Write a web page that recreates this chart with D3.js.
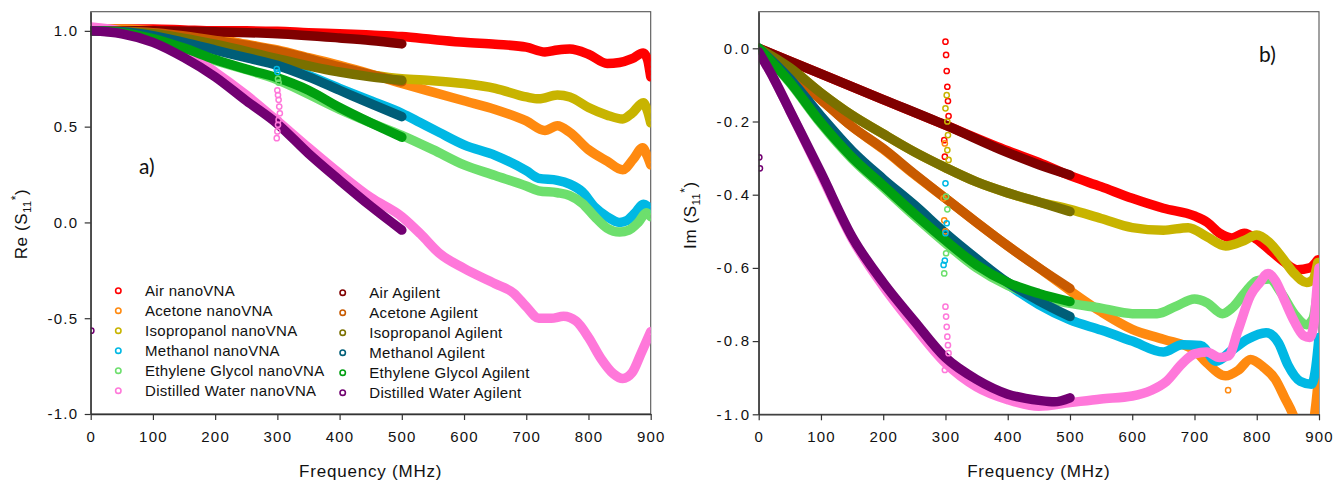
<!DOCTYPE html>
<html>
<head>
<meta charset="utf-8">
<script src="https://cdn.jsdelivr.net/npm/d3@7"></script>
<style>
  body { margin: 0; background: #fff; }
  svg { display: block; font-family: "Liberation Sans", Arial, sans-serif; }
</style>
</head>
<body>
<svg id="chart" width="1344" height="481"></svg>
<script>
// ---------------------------------------------------------------
// Reflection coefficient S11* of six samples, measured with a
// nanoVNA (0–900 MHz) and an Agilent analyser (0–500 MHz).
// Each series is a list of [frequency MHz, value] pairs.
// ---------------------------------------------------------------

const xTicks  = [0, 100, 200, 300, 400, 500, 600, 700, 800, 900];
const reTicks = [-1.0, -0.5, 0.0, 0.5, 1.0];
const imTicks = [-1.0, -0.8, -0.6, -0.4, -0.2, 0.0];

const nanoNames    = ["Air nanoVNA", "Acetone nanoVNA", "Isopropanol nanoVNA", "Methanol nanoVNA", "Ethylene Glycol nanoVNA", "Distilled Water nanoVNA"];
const agilentNames = ["Air Agilent", "Acetone Agilent", "Isopropanol Agilent", "Methanol Agilent", "Ethylene Glycol Agilent", "Distilled Water Agilent"];
const nanoColors    = ["#ff0000", "#ff8a10", "#c8b400", "#00b8e4", "#6ddf6d", "#ff78da"];
const agilentColors = ["#800000", "#c85a00", "#7a7000", "#005e78", "#00a010", "#720072"];

// ---- Real part, nanoVNA ----
const reAirNano = [[0,1.01],[50,1.01],[100,1.01],[150,1.005],[200,1.0],[250,1.0],[300,0.998],[350,0.99],[400,0.985],[450,0.978],[500,0.97],[550,0.955],[600,0.94],[650,0.93],[700,0.915],[730,0.89],[750,0.9],[770,0.905],[800,0.878],[830,0.83],[850,0.835],[870,0.855],[888,0.885],[895,0.85],[898,0.8],[900,0.76]];
const reAcetoneNano = [[0,1.01],[50,1.01],[100,1.0],[150,0.985],[200,0.96],[250,0.93],[300,0.9],[350,0.86],[400,0.82],[450,0.775],[500,0.726],[550,0.68],[600,0.635],[650,0.59],[700,0.53],[730,0.48],[750,0.505],[770,0.47],[800,0.38],[830,0.32],[855,0.275],[872,0.33],[887,0.39],[894,0.35],[900,0.3]];
const reIsopropanolNano = [[0,1.01],[100,0.99],[200,0.94],[300,0.865],[400,0.795],[450,0.77],[500,0.75],[550,0.74],[600,0.725],[650,0.7],[700,0.655],[720,0.645],[750,0.665],[770,0.655],[800,0.6],[830,0.56],[855,0.54],[870,0.57],[888,0.625],[895,0.58],[900,0.52]];
const reMethanolNano = [[0,1.01],[100,0.98],[200,0.91],[300,0.83],[400,0.7],[450,0.635],[500,0.57],[530,0.52],[560,0.47],[600,0.405],[650,0.35],[700,0.27],[720,0.23],[750,0.22],[770,0.2],[790,0.16],[810,0.08],[830,0.03],[850,0.0],[862,0.01],[875,0.05],[888,0.095],[900,0.07]];
const reGlycolNano = [[0,1.01],[100,0.96],[200,0.845],[300,0.745],[400,0.59],[450,0.52],[500,0.455],[550,0.38],[600,0.3],[650,0.245],[700,0.19],[720,0.165],[750,0.155],[770,0.14],[790,0.1],[810,0.03],[830,-0.03],[850,-0.05],[865,-0.04],[880,0.0],[893,0.05],[900,0.03]];
const reWaterNano = [[0,1.02],[50,1.0],[100,0.96],[150,0.89],[200,0.785],[250,0.665],[300,0.53],[350,0.39],[400,0.255],[450,0.13],[500,0.03],[530,-0.06],[560,-0.16],[600,-0.24],[650,-0.32],[680,-0.37],[700,-0.44],[720,-0.5],[740,-0.5],[760,-0.49],[780,-0.515],[800,-0.6],[820,-0.71],[840,-0.79],[855,-0.815],[870,-0.785],[885,-0.68],[900,-0.57]];

// ---- Real part, Agilent ----
const reAirAgilent = [[0,1.0],[100,1.0],[200,0.995],[300,0.985],[400,0.963],[450,0.95],[500,0.932]];
const reAcetoneAgilent = [[0,1.0],[100,0.99],[200,0.95],[300,0.895],[400,0.812],[450,0.772],[500,0.734]];
const reIsopropanolAgilent = [[0,1.0],[100,0.985],[200,0.93],[300,0.855],[400,0.785],[450,0.76],[500,0.742]];
const reMethanolAgilent = [[0,1.0],[50,0.995],[100,0.975],[150,0.94],[200,0.9],[250,0.86],[300,0.82],[350,0.76],[400,0.69],[450,0.62],[500,0.552]];
const reGlycolAgilent = [[0,1.0],[50,0.99],[100,0.96],[150,0.91],[200,0.85],[250,0.8],[300,0.755],[350,0.69],[400,0.6],[450,0.52],[500,0.445]];
const reWaterAgilent = [[0,1.0],[50,0.985],[100,0.94],[150,0.86],[200,0.76],[250,0.635],[300,0.515],[350,0.36],[400,0.22],[450,0.085],[500,-0.04]];

// ---- Real part, isolated readings ----
const reWaterNanoSpikes = [[300,0.69],[301,0.665],[302,0.64],[303,0.605],[304,0.57],[302,0.535],[301,0.51],[300,0.475],[299,0.44]];
const reMethanolNanoSpikes = [[299,0.8],[300,0.785]];
const reGlycolNanoSpikes = [[301,0.75],[302,0.73]];
const reWaterAgilentSpikes = [[1,-0.565]];

// ---- Imaginary part, nanoVNA ----
const imAirNano = [[0,0],[100,-0.07],[200,-0.14],[300,-0.21],[400,-0.28],[450,-0.312],[500,-0.348],[550,-0.378],[600,-0.41],[650,-0.437],[700,-0.458],[720,-0.475],[740,-0.505],[760,-0.518],[780,-0.505],[800,-0.522],[820,-0.55],[845,-0.585],[865,-0.605],[885,-0.6],[898,-0.578]];
const imAcetoneNano = [[0,0],[50,-0.068],[100,-0.14],[150,-0.214],[200,-0.276],[250,-0.345],[300,-0.41],[350,-0.476],[400,-0.54],[450,-0.6],[500,-0.662],[550,-0.72],[600,-0.768],[650,-0.795],[700,-0.825],[720,-0.86],[750,-0.895],[770,-0.88],[790,-0.85],[810,-0.87],[830,-0.905],[845,-0.955],[858,-1.0],[870,-1.06],[885,-1.06],[893,-1.0],[897,-0.94],[900,-0.88]];
const imIsopropanolNano = [[0,0],[50,-0.053],[100,-0.122],[150,-0.183],[200,-0.234],[250,-0.283],[300,-0.326],[350,-0.365],[400,-0.395],[450,-0.42],[500,-0.44],[550,-0.465],[600,-0.49],[650,-0.497],[690,-0.49],[720,-0.515],[750,-0.54],[780,-0.525],[800,-0.51],[820,-0.53],[840,-0.57],[860,-0.615],[880,-0.64],[890,-0.632],[898,-0.585]];
const imMethanolNano = [[0,0],[50,-0.085],[100,-0.188],[150,-0.283],[200,-0.362],[250,-0.433],[300,-0.51],[350,-0.58],[400,-0.645],[450,-0.7],[500,-0.742],[550,-0.77],[600,-0.8],[650,-0.83],[680,-0.81],[710,-0.812],[735,-0.855],[760,-0.825],[785,-0.795],[815,-0.777],[835,-0.805],[850,-0.865],[870,-0.91],[888,-0.918],[895,-0.87],[900,-0.79]];
const imGlycolNano = [[0,0],[50,-0.094],[100,-0.206],[150,-0.302],[200,-0.38],[250,-0.458],[300,-0.532],[350,-0.6],[400,-0.648],[450,-0.678],[500,-0.697],[550,-0.71],[600,-0.725],[640,-0.725],[670,-0.705],[700,-0.685],[720,-0.695],[745,-0.725],[760,-0.71],[780,-0.67],[800,-0.635],[820,-0.63],[840,-0.67],[860,-0.725],[880,-0.755],[890,-0.74],[898,-0.66]];
const imWaterNano = [[0,-0.01],[25,-0.085],[50,-0.17],[100,-0.345],[150,-0.52],[200,-0.65],[250,-0.76],[300,-0.86],[350,-0.925],[400,-0.96],[450,-0.978],[500,-0.968],[550,-0.958],[600,-0.95],[630,-0.935],[655,-0.91],[680,-0.862],[700,-0.835],[720,-0.83],[740,-0.845],[755,-0.84],[770,-0.77],[790,-0.675],[805,-0.64],[818,-0.615],[830,-0.635],[845,-0.69],[860,-0.745],[875,-0.785],[885,-0.79],[892,-0.75],[897,-0.65],[900,-0.6]];

// ---- Imaginary part, Agilent ----
const imAirAgilent = [[0,0],[100,-0.07],[200,-0.14],[300,-0.21],[400,-0.285],[450,-0.318],[500,-0.346]];
const imAcetoneAgilent = [[0,0],[50,-0.068],[100,-0.14],[150,-0.214],[200,-0.274],[250,-0.343],[300,-0.41],[350,-0.476],[400,-0.54],[450,-0.6],[500,-0.656]];
const imIsopropanolAgilent = [[0,0],[50,-0.053],[100,-0.122],[150,-0.183],[200,-0.234],[250,-0.283],[300,-0.326],[350,-0.365],[400,-0.395],[450,-0.42],[500,-0.446]];
const imMethanolAgilent = [[0,0],[50,-0.083],[100,-0.185],[150,-0.28],[200,-0.357],[250,-0.428],[300,-0.505],[350,-0.575],[400,-0.64],[450,-0.69],[500,-0.733]];
const imGlycolAgilent = [[0,0],[50,-0.092],[100,-0.203],[150,-0.298],[200,-0.375],[250,-0.452],[300,-0.525],[350,-0.592],[400,-0.64],[450,-0.67],[500,-0.692]];
const imWaterAgilent = [[0,-0.01],[25,-0.085],[50,-0.17],[100,-0.34],[150,-0.515],[200,-0.64],[250,-0.745],[300,-0.845],[350,-0.905],[400,-0.945],[450,-0.962],[475,-0.966],[500,-0.955]];

// ---- Imaginary part, isolated readings ----
const imAirNanoSpikes = [[300,0.018],[301,-0.018],[302,-0.062],[303,-0.105],[304,-0.144],[305,-0.185],[298,-0.251],[299,-0.296]];
const imIsopropanolNanoSpikes = [[302,-0.128],[300,-0.164],[303,-0.2],[304,-0.237],[303,-0.278],[305,-0.305]];
const imAcetoneNanoSpikes = [[299,-0.26],[297,-0.41],[298,-0.47],[300,-0.5],[754,-0.934]];
const imMethanolNanoSpikes = [[300,-0.369],[302,-0.478],[300,-0.505],[299,-0.58],[297,-0.592]];
const imGlycolNanoSpikes = [[301,-0.405],[303,-0.44],[301,-0.56],[298,-0.615]];
const imWaterNanoSpikes = [[300,-0.706],[301,-0.733],[302,-0.761],[303,-0.788],[304,-0.811],[305,-0.833],[299,-0.879]];
const imWaterAgilentSpikes = [[1,-0.298],[2,-0.328]];

// ---------------------------------------------------------------
const svg = d3.select("#chart");
const TEXT = "#111";

function drawPanel(cfg) {
  const x = d3.scaleLinear().domain([0, 900]).range([cfg.left, cfg.right]);
  const y = d3.scaleLinear().domain(cfg.yDomain).range([cfg.bottom, cfg.top]);
  const g = svg.append("g");

  const clipId = "clip-" + cfg.id;
  svg.append("defs").append("clipPath").attr("id", clipId)
    .append("rect")
    .attr("x", cfg.left).attr("y", cfg.top)
    .attr("width", cfg.right - cfg.left).attr("height", cfg.bottom - cfg.top);

  // frame
  g.append("rect")
    .attr("x", cfg.left).attr("y", cfg.top)
    .attr("width", cfg.right - cfg.left).attr("height", cfg.bottom - cfg.top)
    .attr("fill", "none").attr("stroke", "#555").attr("stroke-width", 1.1);

  const plot = g.append("g").attr("clip-path", `url(#${clipId})`);
  const line = d3.line().x(d => x(d[0])).y(d => y(d[1])).curve(d3.curveMonotoneX);

  // dense sweep drawn as a solid band of markers
  function band(data, color) {
    plot.append("path").datum(data)
      .attr("d", line)
      .attr("fill", "none").attr("stroke", color)
      .attr("stroke-width", 9.5)
      .attr("stroke-linejoin", "round").attr("stroke-linecap", "round");
    plot.append("g").selectAll("circle").data(data).join("circle")
      .attr("cx", d => x(d[0])).attr("cy", d => y(d[1])).attr("r", 2.6)
      .attr("fill", "none").attr("stroke", color).attr("stroke-width", 1.5);
  }
  function spikes(data, color) {
    plot.append("g").selectAll("circle").data(data).join("circle")
      .attr("cx", d => x(d[0])).attr("cy", d => y(d[1])).attr("r", 2.6)
      .attr("fill", "none").attr("stroke", color).attr("stroke-width", 1.5);
  }

  cfg.nano.forEach((s, i) => band(s, nanoColors[i]));
  cfg.agilent.forEach((s, i) => band(s, agilentColors[i]));
  cfg.spikes.forEach(s => spikes(s.data, s.color));

  // axes
  const ax = g.append("g").attr("transform", `translate(0,${cfg.bottom})`)
    .call(d3.axisBottom(x).tickValues(xTicks).tickSize(6).tickPadding(11).tickSizeOuter(0).tickFormat(d => String(d)));
  const ay = g.append("g").attr("transform", `translate(${cfg.left},0)`)
    .call(d3.axisLeft(y).tickValues(cfg.yTicks).tickSize(6).tickPadding(cfg.yPad).tickSizeOuter(0).tickFormat(d => d.toFixed(1)));
  [ax, ay].forEach(a => {
    a.select(".domain").attr("stroke", "#333").attr("stroke-width", 1.3);
    a.selectAll(".tick line").attr("stroke", "#333").attr("stroke-width", 1.2);
    a.selectAll(".tick text").attr("fill", TEXT).attr("font-size", 15)
      .attr("font-family", "Liberation Sans, Arial, sans-serif");
  });
  ax.selectAll(".tick text").attr("letter-spacing", 1.2);
  ay.selectAll(".tick text").attr("letter-spacing", cfg.ySpacing);

  // axis titles
  g.append("text")
    .attr("x", (cfg.left + cfg.right) / 2).attr("y", 477)
    .attr("text-anchor", "middle").attr("font-size", 17).attr("letter-spacing", 0.8)
    .attr("fill", TEXT).text("Frequency (MHz)");

  const yt = g.append("text")
    .attr("transform", `translate(${cfg.yTitleX},${cfg.yTitleY}) rotate(-90)`)
    .attr("text-anchor", "middle").attr("font-size", 17).attr("letter-spacing", 0.6)
    .attr("fill", TEXT);
  yt.append("tspan").text(cfg.yTitle + " (S");
  yt.append("tspan").attr("font-size", 11).attr("dy", 4).text("11");
  yt.append("tspan").attr("font-size", 12).attr("dy", -11).text("*");
  yt.append("tspan").attr("dy", 7).text(")");

  // panel tag
  g.append("text")
    .attr("x", cfg.tagX).attr("y", cfg.tagY)
    .attr("font-family", "Lato, 'Open Sans', sans-serif").attr("font-size", 21)
    .attr("fill", TEXT).text(cfg.tag);

  return { x, y, g };
}

drawPanel({
  id: "re", left: 90.7, right: 650.7, top: 11.7, bottom: 414,
  yDomain: [-1, 1.1], yTicks: reTicks, yPad: 6.5, ySpacing: 1.2,
  nano: [reAirNano, reAcetoneNano, reIsopropanolNano, reMethanolNano, reGlycolNano, reWaterNano],
  agilent: [reAirAgilent, reAcetoneAgilent, reIsopropanolAgilent, reMethanolAgilent, reGlycolAgilent, reWaterAgilent],
  spikes: [
    { data: reWaterNanoSpikes, color: nanoColors[5] },
    { data: reMethanolNanoSpikes, color: nanoColors[3] },
    { data: reGlycolNanoSpikes, color: nanoColors[4] },
    { data: reWaterAgilentSpikes, color: agilentColors[5] }
  ],
  yTitle: "Re", yTitleX: 27, yTitleY: 224,
  tag: "a)", tagX: 139, tagY: 174
});

drawPanel({
  id: "im", left: 758.7, right: 1319, top: 11.7, bottom: 414.3,
  yDomain: [-1, 0.1], yTicks: imTicks, yPad: 1.5, ySpacing: 2.2,
  nano: [imAirNano, imAcetoneNano, imIsopropanolNano, imMethanolNano, imGlycolNano, imWaterNano],
  agilent: [imAirAgilent, imAcetoneAgilent, imIsopropanolAgilent, imMethanolAgilent, imGlycolAgilent, imWaterAgilent],
  spikes: [
    { data: imAirNanoSpikes, color: nanoColors[0] },
    { data: imIsopropanolNanoSpikes, color: nanoColors[2] },
    { data: imAcetoneNanoSpikes, color: nanoColors[1] },
    { data: imMethanolNanoSpikes, color: nanoColors[3] },
    { data: imGlycolNanoSpikes, color: nanoColors[4] },
    { data: imWaterNanoSpikes, color: nanoColors[5] },
    { data: imWaterAgilentSpikes, color: agilentColors[5] }
  ],
  yTitle: "Im", yTitleX: 696, yTitleY: 215,
  tag: "b)", tagX: 1259, tagY: 62
});

// legend (inside the left panel)
const legend = svg.append("g");
function legendColumn(names, colors, mx, tx, y0) {
  const rows = legend.append("g").selectAll("g").data(names).join("g")
    .attr("transform", (d, i) => `translate(0,${y0 + i * 20})`);
  rows.append("circle").attr("cx", mx).attr("cy", 0).attr("r", 2.7)
    .attr("fill", "none").attr("stroke", (d, i) => colors[i]).attr("stroke-width", 1.6);
  rows.append("text").attr("x", tx).attr("y", 0).attr("dy", "0.36em")
    .attr("font-size", 15).attr("letter-spacing", 0.3).attr("fill", TEXT).text(d => d);
}
legendColumn(nanoNames, nanoColors, 118.3, 145, 290.7);
legendColumn(agilentNames, agilentColors, 342.7, 369.3, 292.7);
</script>
</body>
</html>
